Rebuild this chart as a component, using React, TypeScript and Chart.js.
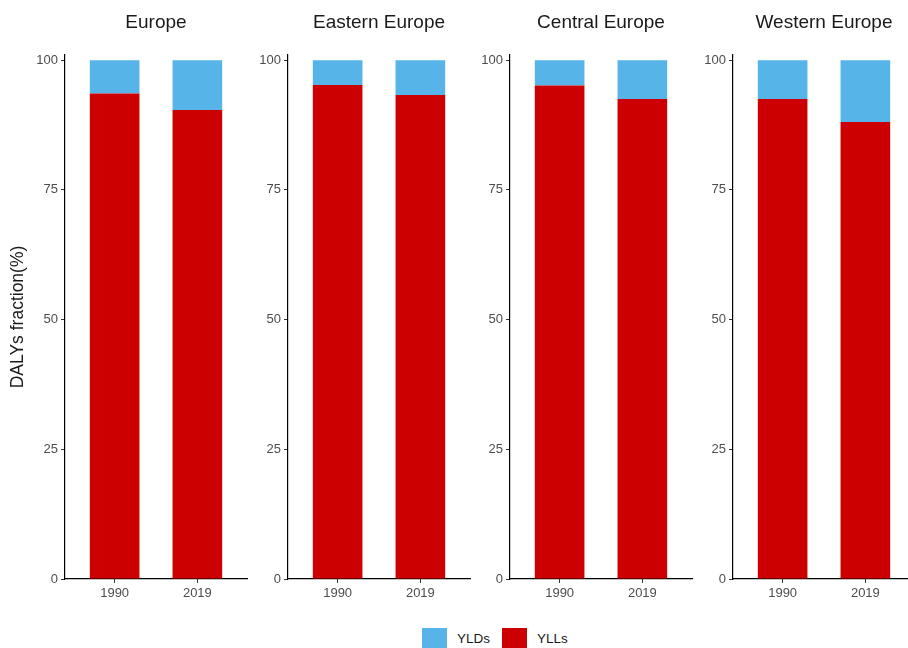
import React, { useEffect, useRef } from 'react';
import { Chart, registerables } from 'chart.js';
Chart.register(...registerables);

const regions = ['Europe', 'Eastern Europe', 'Central Europe', 'Western Europe'];
const years = ['1990', '2019'];
const seriesNames = ['YLDs', 'YLLs'];
const yTicks = [0, 25, 50, 75, 100];

const yllEurope = [93.6, 90.4];
const yldEurope = [6.4, 9.6];
const yllEastern = [95.2, 93.3];
const yldEastern = [4.8, 6.7];
const yllCentral = [95.1, 92.5];
const yldCentral = [4.9, 7.5];
const yllWestern = [92.5, 88.1];
const yldWestern = [7.5, 11.9];

const yllByRegion = [yllEurope, yllEastern, yllCentral, yllWestern];
const yldByRegion = [yldEurope, yldEastern, yldCentral, yldWestern];

const BLUE = '#56B4E9';
const RED = '#CC0000';
const FONT = 'Liberation Sans, Arial, sans-serif';

const panels = [
  { left: 0, width: 250, axisW: 65, padRight: 3 },
  { left: 250, width: 222, axisW: 38, padRight: 2 },
  { left: 472, width: 222, axisW: 38, padRight: 2 },
  { left: 694, width: 224, axisW: 39, padRight: 3 },
];

function Panel({ idx }: { idx: number }) {
  const ref = useRef<HTMLCanvasElement | null>(null);
  const p = panels[idx];
  useEffect(() => {
    if (!ref.current) return;
    const chart = new Chart(ref.current, {
      type: 'bar',
      data: {
        datasets: [
          {
            label: seriesNames[1],
            data: yllByRegion[idx].map((v, i) => ({ x: i + 1, y: v })),
            backgroundColor: RED,
            borderWidth: 0,
          },
          {
            label: seriesNames[0],
            data: yldByRegion[idx].map((v, i) => ({ x: i + 1, y: v })),
            backgroundColor: BLUE,
            borderWidth: 0,
          },
        ],
      },
      options: {
        responsive: false,
        animation: false,
        layout: { padding: { left: 0, right: p.padRight, top: 0, bottom: 0 } },
        datasets: { bar: { categoryPercentage: 1, barPercentage: 0.6 } },
        plugins: {
          legend: { display: false },
          tooltip: { enabled: false },
          title: {
            display: true,
            fullSize: false,
            text: regions[idx],
            color: '#1a1a1a',
            font: { family: FONT, size: 19, weight: 'normal' },
            padding: { top: 11.6, bottom: 20.6 },
          },
        },
        scales: {
          x: {
            type: 'linear',
            stacked: true,
            min: 0.4,
            max: 2.6,
            offset: false,
            afterBuildTicks: (a: any) => {
              a.ticks = years.map((_, i) => ({ value: i + 1 }));
            },
            afterFit: (s: any) => {
              s.height = 31;
            },
            ticks: {
              callback: (v: any) => years[Number(v) - 1],
              color: '#4d4d4d',
              font: { family: FONT, size: 13 },
              padding: 3,
              maxRotation: 0,
              autoSkip: false,
            },
            grid: { offset: false, drawOnChartArea: false, drawTicks: true, tickLength: 4, color: '#333333' },
            border: { display: true, color: '#000000', width: 1.2 },
          },
          y: {
            stacked: true,
            min: 0,
            max: 101,
            afterBuildTicks: (a: any) => {
              a.ticks = yTicks.map((v) => ({ value: v }));
            },
            afterFit: (s: any) => {
              s.width = p.axisW;
            },
            ticks: {
              color: '#4d4d4d',
              font: { family: FONT, size: 13 },
              padding: 3,
            },
            grid: { drawOnChartArea: false, drawTicks: true, tickLength: 4, color: '#333333' },
            border: { display: true, color: '#000000', width: 1.2 },
            title: {
              display: idx === 0,
              text: 'DALYs fraction(%)',
              color: '#1a1a1a',
              font: { family: FONT, size: 17.5 },
              padding: { top: 8, bottom: 0 },
            },
          },
        },
      } as any,
    });
    return () => chart.destroy();
  }, [idx]);
  return (
    <canvas
      ref={ref}
      width={p.width}
      height={610}
      style={{ position: 'absolute', left: p.left, top: 0, width: p.width, height: 610 }}
    />
  );
}

export default function App() {
  return (
    <div
      style={{
        position: 'fixed',
        left: 0,
        top: 0,
        width: 908,
        height: 648,
        background: '#ffffff',
        overflow: 'hidden',
        fontFamily: FONT,
      }}
    >
      {panels.map((_, i) => (
        <Panel key={i} idx={i} />
      ))}
      <div style={{ position: 'absolute', left: 422, top: 628, width: 25, height: 24, background: BLUE }} />
      <div style={{ position: 'absolute', left: 457, top: 631, fontSize: 13.5, color: '#1a1a1a', lineHeight: '16px' }}>
        {seriesNames[0]}
      </div>
      <div style={{ position: 'absolute', left: 502, top: 628, width: 25, height: 24, background: RED }} />
      <div style={{ position: 'absolute', left: 537, top: 631, fontSize: 13.5, color: '#1a1a1a', lineHeight: '16px' }}>
        {seriesNames[1]}
      </div>
    </div>
  );
}
